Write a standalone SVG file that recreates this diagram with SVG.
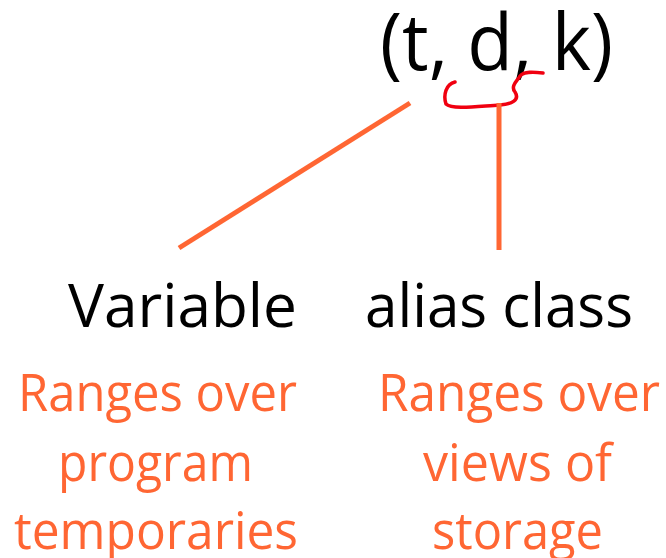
<svg xmlns="http://www.w3.org/2000/svg" width="666" height="558" viewBox="0 0 666 558">
<style>
.t{font-family:"Open Sans","Noto Sans","Liberation Sans",sans-serif;}
.blk{fill:#000;}
.org{fill:#FF6633;}
.conn{stroke:#FF6633;stroke-width:5;fill:none;}
</style>
<rect width="666" height="558" fill="#fff"/>
<g id="tuple">
<text class="t blk" x="380" y="70" font-size="78" textLength="233" lengthAdjust="spacingAndGlyphs">(t, d, k)</text>
</g>
<g id="squiggle">
<path d="M455,82 C446,84 443,95 446,104 C452,110 480,106 500,105 C512,104 520,100 515,92 C510,86 518,80 520,76 C524,71 534,72 543,73" fill="none" stroke="#F00010" stroke-width="3.5" stroke-linecap="round"/>
</g>
<g id="connectors">
<line class="conn" x1="179" y1="248" x2="410" y2="103"/>
<line class="conn" x1="499" y1="103" x2="499" y2="250"/>
</g>
<g id="variable">
<text class="t blk" x="68" y="327" font-size="61" textLength="229" lengthAdjust="spacingAndGlyphs">Variable</text>
<text class="t org" x="18" y="411" font-size="51" textLength="279" lengthAdjust="spacingAndGlyphs">Ranges over</text>
<text class="t org" x="58" y="481" font-size="51" textLength="195" lengthAdjust="spacingAndGlyphs">program</text>
<text class="t org" x="14" y="549" font-size="51" textLength="284" lengthAdjust="spacingAndGlyphs">temporaries</text>
</g>
<g id="alias">
<text class="t blk" x="365" y="327" font-size="61" textLength="268" lengthAdjust="spacingAndGlyphs">alias class</text>
<text class="t org" x="378" y="411" font-size="51" textLength="282" lengthAdjust="spacingAndGlyphs">Ranges over</text>
<text class="t org" x="423" y="481" font-size="51" textLength="189" lengthAdjust="spacingAndGlyphs">views of</text>
<text class="t org" x="432" y="549" font-size="51" textLength="171" lengthAdjust="spacingAndGlyphs">storage</text>
</g>
</svg>
